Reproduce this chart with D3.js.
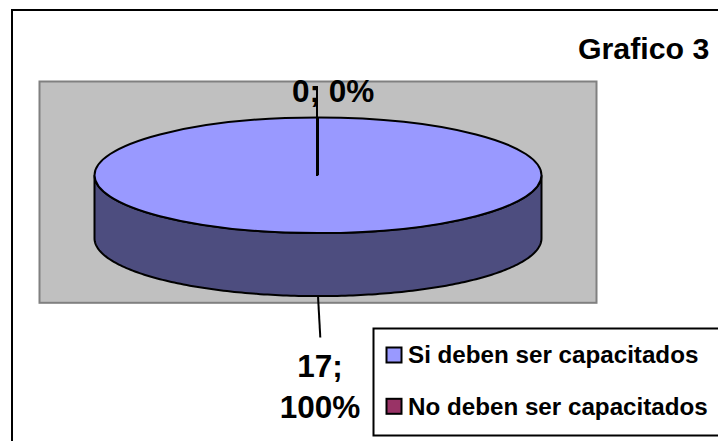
<!DOCTYPE html>
<html><head><meta charset="utf-8">
<script src="https://cdnjs.cloudflare.com/ajax/libs/d3/7.8.5/d3.min.js"></script>
<style>html,body{margin:0;padding:0;background:#fff}svg{display:block}text{font-family:"Liberation Sans",Arial,sans-serif;font-weight:bold;fill:#000}</style>
</head><body><div id="c"></div>
<script>
const categories = ["Si deben ser capacitados", "No deben ser capacitados"];
const values = [17, 0];
const percents = ["100%", "0%"];
const sliceColors = ["#9999ff", "#993366"];
const titleText = "Grafico 3";

const W = 718, H = 441;
const svg = d3.select("#c").append("svg").attr("width", W).attr("height", H);

svg.append("rect").attr("x", 12).attr("y", 10).attr("width", 720).attr("height", 450)
  .attr("fill", "#fff").attr("stroke", "#000").attr("stroke-width", 2);
svg.append("text").attr("x", 578).attr("y", 59).attr("font-size", 30.3).text(titleText);

svg.append("rect").attr("x", 39.5).attr("y", 81.5).attr("width", 557).attr("height", 221.3)
  .attr("fill", "#c0c0c0").attr("stroke", "#808080").attr("stroke-width", 2);

const cx = 318, cy = 175.3, rx = 223.5, ry = 57.8, depth = 63;
const pieGen = d3.pie().sort(null).value(d => d)(values);
const arc = d3.arc().innerRadius(0).outerRadius(rx);

// Side wall: the visible lower half of the ellipse, extruded downward
const sideAngles = d3.range(0, 181).map(d => d * Math.PI / 180);
const side = d3.line()(
  sideAngles.map(a => [cx + rx * Math.cos(a), cy + ry * Math.sin(a)])
    .concat(sideAngles.slice().reverse().map(a => [cx + rx * Math.cos(a), cy + depth + ry * Math.sin(a)]))
) + "Z";
svg.append("path").attr("d", side).attr("fill", "#4d4d7f").attr("stroke", "#000").attr("stroke-width", 2);

svg.append("g").attr("transform", `translate(${cx},${cy}) scale(1,${ry / rx})`)
  .selectAll("path").data(pieGen).join("path")
  .attr("d", arc)
  .attr("fill", (d, i) => sliceColors[i])
  .attr("stroke", "#000").attr("stroke-width", 2)
  .attr("vector-effect", "non-scaling-stroke");

// Labels and leader lines
svg.append("text").attr("x", 292).attr("y", 102).attr("font-size", 31.5).text(`${values[1]}; ${percents[1]}`);
svg.append("line").attr("x1", cx - 1).attr("y1", 86).attr("x2", cx - 1).attr("y2", 176)
  .attr("stroke", "#000").attr("stroke-width", 2);
svg.append("line").attr("x1", cx).attr("y1", cy + depth + ry).attr("x2", 320.3).attr("y2", 337.5)
  .attr("stroke", "#000").attr("stroke-width", 2);
svg.append("text").attr("x", 320).attr("y", 377).attr("font-size", 31.5).attr("text-anchor", "middle").text(`${values[0]};`);
svg.append("text").attr("x", 320).attr("y", 418).attr("font-size", 31.5).attr("text-anchor", "middle").text(percents[0]);

// Legend
svg.append("rect").attr("x", 373.5).attr("y", 328.5).attr("width", 360).attr("height", 107)
  .attr("fill", "#fff").attr("stroke", "#000").attr("stroke-width", 2);
const y = d3.scalePoint().domain(categories).range([355, 406.3]);
const items = svg.selectAll("g.leg").data(categories).join("g").attr("class", "leg");
items.append("rect").attr("x", 386.5).attr("y", d => y(d) - 7.5).attr("width", 15).attr("height", 15)
  .attr("fill", (d, i) => sliceColors[i]).attr("stroke", "#000").attr("stroke-width", 2);
items.append("text").attr("x", 408).attr("y", d => y(d) + 8.4).attr("font-size", 24.2).text(d => d);
</script></body></html>
